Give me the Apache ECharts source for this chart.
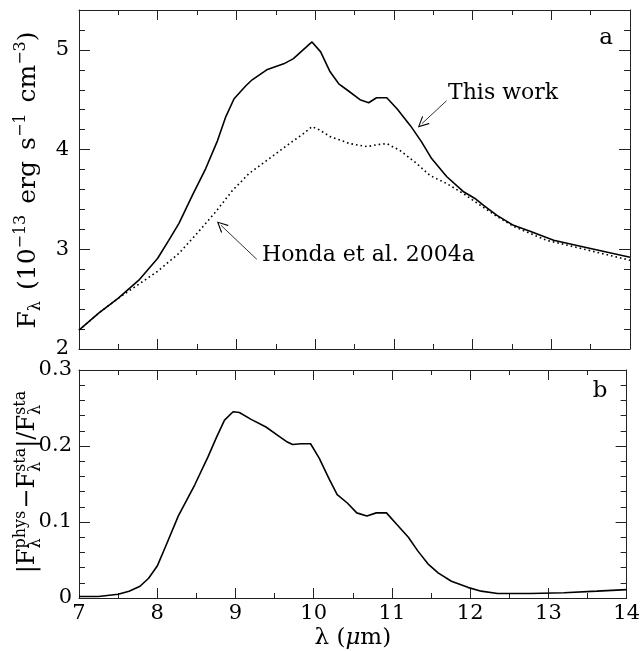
<!DOCTYPE html>
<html><head><meta charset="utf-8">
<script src="https://cdn.jsdelivr.net/npm/echarts@6/dist/echarts.min.js"></script>
<style>html,body{margin:0;padding:0;background:#fff}#c{width:643px;height:651px}</style>
</head><body><div id="c"></div>
<script>
const FONT = '"DejaVu Serif", serif';

// Panel a: "This work"
const thisWorkLambda = [7, 7.25, 7.5, 7.76, 8.0, 8.14, 8.27, 8.44, 8.61, 8.76, 8.86, 8.97, 9.12, 9.2, 9.385, 9.6, 9.72, 9.96, 10.07, 10.19, 10.3, 10.42, 10.57, 10.68, 10.78, 10.91, 11.04, 11.21, 11.35, 11.48, 11.67, 11.88, 12.03, 12.14, 12.31, 12.52, 12.73, 13.03, 13.37, 14.0];
const thisWorkFlux   = [2.19, 2.36, 2.51, 2.69, 2.91, 3.09, 3.26, 3.54, 3.81, 4.09, 4.32, 4.51, 4.64, 4.70, 4.80, 4.86, 4.91, 5.08, 4.98, 4.78, 4.66, 4.59, 4.50, 4.47, 4.52, 4.52, 4.41, 4.24, 4.08, 3.91, 3.73, 3.58, 3.51, 3.44, 3.34, 3.24, 3.18, 3.09, 3.03, 2.92];

// Panel a: Honda et al. 2004a
const hondaLambda = [7, 7.25, 7.5, 7.76, 8.0, 8.27, 8.5, 8.74, 8.95, 9.16, 9.4, 9.64, 9.85, 9.96, 10.05, 10.19, 10.44, 10.66, 10.8, 10.91, 11.08, 11.29, 11.46, 11.67, 11.88, 12.10, 12.31, 12.52, 12.94, 13.37, 14.0];
const hondaFlux   = [2.19, 2.36, 2.51, 2.65, 2.78, 2.96, 3.16, 3.38, 3.59, 3.76, 3.90, 4.04, 4.16, 4.23, 4.20, 4.13, 4.06, 4.03, 4.05, 4.06, 3.99, 3.86, 3.74, 3.66, 3.56, 3.44, 3.33, 3.23, 3.09, 3.01, 2.89];

// Panel b: relative difference
const diffLambda = [7, 7.25, 7.5, 7.64, 7.78, 7.89, 8.0, 8.12, 8.27, 8.48, 8.65, 8.76, 8.86, 8.97, 9.05, 9.2, 9.39, 9.54, 9.65, 9.73, 9.84, 9.96, 10.07, 10.2, 10.3, 10.43, 10.55, 10.68, 10.8, 10.93, 11.06, 11.21, 11.33, 11.46, 11.59, 11.76, 11.97, 12.14, 12.35, 12.77, 13.2, 13.62, 14.0];
const diffValue  = [0.002, 0.002, 0.005, 0.009, 0.0155, 0.026, 0.042, 0.071, 0.108, 0.149, 0.186, 0.212, 0.234, 0.245, 0.244, 0.235, 0.225, 0.214, 0.206, 0.202, 0.203, 0.203, 0.184, 0.156, 0.136, 0.125, 0.112, 0.108, 0.112, 0.112, 0.097, 0.080, 0.062, 0.045, 0.033, 0.022, 0.014, 0.009, 0.006, 0.006, 0.007, 0.009, 0.011];

// Annotation arrows (data coordinates: [lambda, value])
const arrowThisWork = [[11.67, 4.49], [11.356, 4.26]];
const arrowHonda = [[9.258, 2.90], [8.803, 3.241]];

const zip = (a, b) => a.map((v, i) => [v, b[i]]);

const mctx = document.createElement('canvas').getContext('2d');
function tw(t, s) { mctx.font = s + 'px ' + FONT; return mctx.measureText(t).width; }
function mk(q, x) {
  return { type: 'text', x: x, y: q.dy || 0,
    style: { text: q.t, font: q.s + 'px ' + FONT, fill: '#000',
      textAlign: 'left', textVerticalAlign: 'middle', align: 'left', verticalAlign: 'middle' } };
}
function rotLabel(parts, cx, cy) {
  let x = 0; const kids = [];
  parts.forEach(p => {
    if (p.gap) x += p.gap;
    if (p.stack) {
      let wm = 0;
      p.stack.forEach(q => { kids.push(mk(q, x)); wm = Math.max(wm, tw(q.t, q.s)); });
      x += wm;
    } else { kids.push(mk(p, x)); x += tw(p.t, p.s); }
  });
  kids.forEach(k => { k.x -= x / 2; });
  return { type: 'group', x: cx, y: cy, rotation: Math.PI / 2, children: kids };
}

const M = 25, S = 16, SUP = -7, SUB = 8;
const topTitle = rotLabel([
  { t: 'F', s: M }, { t: 'λ', s: S, dy: SUB },
  { gap: 11, t: '(10', s: M }, { t: '−13', s: S, dy: SUP },
  { gap: 11, t: 'erg', s: M },
  { gap: 11, t: 's', s: M }, { t: '−1', s: S, dy: SUP },
  { gap: 11, t: 'cm', s: M }, { t: '−3', s: S, dy: SUP },
  { t: ')', s: M }
], 28, 180);
const botTitle = rotLabel([
  { t: '|F', s: 24 }, { stack: [{ t: 'phys', s: S, dy: SUP }, { t: 'λ', s: S, dy: SUB }] },
  { gap: 2, t: '−F', s: 24 }, { stack: [{ t: 'sta', s: S, dy: SUP }, { t: 'λ', s: S, dy: SUB }] },
  { t: '|/F', s: 24 }, { stack: [{ t: 'sta', s: S, dy: SUP }, { t: 'λ', s: S, dy: SUB }] }
], 28, 482);

function txt(t, x, y, size, align) {
  return { type: 'text', x: x, y: y, style: { text: t, font: size + 'px ' + FONT, fill: '#000',
    textAlign: align || 'left', textVerticalAlign: 'middle', align: align || 'left', verticalAlign: 'middle' } };
}

const AX = '#222';
function xAx(grid, pos, labels) {
  const a = { type: 'value', gridIndex: grid, position: pos, min: 7, max: 14, interval: 1,
    axisLine: { show: true, onZero: false, lineStyle: { color: AX, width: 1 } },
    splitLine: { show: false },
    axisTick: { show: true, inside: true, length: 10, lineStyle: { color: AX } },
    minorTick: { show: true, splitNumber: 2, length: 5, lineStyle: { color: AX } },
    axisLabel: { show: !!labels, margin: 5, fontFamily: FONT, fontSize: 21, color: '#000' } };
  if (labels) {
    a.name = '{n|λ (}{i|μ}{n|m)}';
    a.nameLocation = 'middle';
    a.nameGap = 29;
    a.nameTextStyle = { rich: { n: { fontFamily: FONT, fontSize: 23, color: '#000' },
      i: { fontFamily: FONT, fontSize: 23, fontStyle: 'italic', color: '#000' } } };
  }
  return a;
}
function yAx(grid, pos, min, max, interval, tickLen, labels, line, minor) {
  const a = { type: 'value', gridIndex: grid, position: pos, min: min, max: max, interval: interval,
    axisLine: { show: line, onZero: false, lineStyle: { color: AX, width: 1 } },
    splitLine: { show: false },
    axisTick: { show: true, inside: true, length: tickLen, lineStyle: { color: AX } },
    axisLabel: { show: !!labels, margin: grid === 0 ? 10 : 7, showMaxLabel: grid === 0 ? false : true,
      fontFamily: FONT, fontSize: 21, color: '#000' } };
  if (minor) a.minorTick = { show: true, splitNumber: minor, length: 6, lineStyle: { color: AX } };
  return a;
}

const OPEN_ARROW = 'path://M5,0 L9.2,12 L8.2,12 L5,2.6 L1.8,12 L0.8,12 Z';
function arrowMark(pair) {
  return { silent: true, animation: false, symbol: ['none', OPEN_ARROW], symbolSize: 11,
    label: { show: false }, emphasis: { disabled: true },
    lineStyle: { color: '#000', width: 0.8, type: 'solid' },
    data: [[{ coord: pair[0] }, { coord: pair[1] }]] };
}

const chart = echarts.init(document.getElementById('c'), null, { renderer: 'canvas' });
chart.setOption({
  animation: false,
  backgroundColor: '#fff',
  textStyle: { fontFamily: FONT },
  grid: [
    { left: 79, right: 13, top: 10, height: 339 },
    { left: 79, right: 13, top: 370, height: 229 }
  ],
  xAxis: [xAx(0, 'bottom', false), xAx(0, 'top', false), xAx(1, 'bottom', true), xAx(1, 'top', false)],
  yAxis: [
    yAx(0, 'left', 2, 5.4, 1, 11, true, true),
    yAx(0, 'left', 2, 5.4, 0.2, 6, false, false),
    yAx(0, 'right', 2, 5.4, 1, 11, false, true),
    yAx(0, 'right', 2, 5.4, 0.2, 6, false, false),
    yAx(1, 'left', 0, 0.3, 0.1, 11, true, true, 5),
    yAx(1, 'right', 0, 0.3, 0.1, 11, false, true, 5)
  ],
  series: [
    { name: 'This work', type: 'line', xAxisIndex: 0, yAxisIndex: 0, data: zip(thisWorkLambda, thisWorkFlux),
      symbol: 'none', showSymbol: false, lineStyle: { color: '#000', width: 1.6 },
      markLine: arrowMark(arrowThisWork) },
    { name: 'Honda et al. 2004a', type: 'line', xAxisIndex: 0, yAxisIndex: 0, data: zip(hondaLambda, hondaFlux),
      symbol: 'none', showSymbol: false, lineStyle: { color: '#000', width: 1.6, type: [1.6, 3] },
      markLine: arrowMark(arrowHonda) },
    { name: 'diff', type: 'line', xAxisIndex: 2, yAxisIndex: 4, data: zip(diffLambda, diffValue),
      symbol: 'none', showSymbol: false, lineStyle: { color: '#000', width: 1.6 } }
  ],
  graphic: [
    topTitle, botTitle,
    txt('This work', 448, 93, 22),
    txt('Honda et al. 2004a', 262, 255, 22),
    txt('a', 606, 38, 23, 'center'),
    txt('b', 600, 391, 23, 'center')
  ]
});
</script></body></html>
